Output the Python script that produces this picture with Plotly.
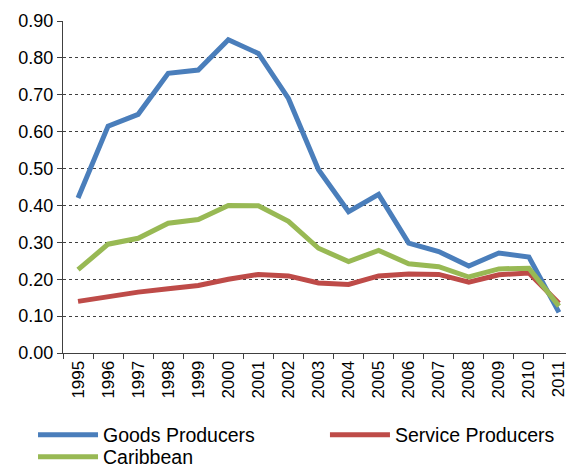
import plotly.graph_objects as go

years = [str(y) for y in range(1995, 2012)]
goods = [0.42, 0.615, 0.647, 0.758, 0.767, 0.849, 0.812, 0.69, 0.497, 0.383, 0.43, 0.298, 0.275, 0.236, 0.271, 0.26, 0.11]
service = [0.14, 0.153, 0.165, 0.174, 0.183, 0.2, 0.213, 0.209, 0.19, 0.186, 0.209, 0.214, 0.213, 0.192, 0.212, 0.217, 0.135]
caribbean = [0.226, 0.295, 0.311, 0.352, 0.362, 0.4, 0.399, 0.357, 0.284, 0.248, 0.278, 0.242, 0.234, 0.206, 0.228, 0.23, 0.127]
yticks = [0.0, 0.1, 0.2, 0.3, 0.4, 0.5, 0.6, 0.7, 0.8, 0.9]

fig = go.Figure()
fig.add_trace(go.Scatter(x=years, y=goods, mode="lines", name="Goods Producers",
                         line=dict(color="#4a7ebb", width=5), legend="legend"))
fig.add_trace(go.Scatter(x=years, y=service, mode="lines", name="Service Producers",
                         line=dict(color="#be4b48", width=5), legend="legend2"))
fig.add_trace(go.Scatter(x=years, y=caribbean, mode="lines", name="Caribbean",
                         line=dict(color="#98b954", width=5), legend="legend3"))

legend_common = dict(orientation="v", xref="container", yref="container",
                     xanchor="left", yanchor="middle", itemwidth=60,
                     font=dict(size=19.5), bgcolor="rgba(0,0,0,0)", tracegroupgap=0)

fig.update_layout(
    width=566, height=460,
    margin=dict(l=55, r=0, t=13, b=115, autoexpand=False),
    paper_bgcolor="white", plot_bgcolor="white",
    font=dict(family="Liberation Sans, Arial, sans-serif", size=17, color="black"),
    showlegend=True,
    legend=dict(x=0.0442, y=0.0717, **legend_common),
    legend2=dict(x=0.560, y=0.0717, **legend_common),
    legend3=dict(x=0.0442, y=0.0239, **legend_common),
    xaxis=dict(type="category", range=[-0.5, 16.5], tickangle=-90,
               showline=True, linecolor="#404040", linewidth=1,
               ticks="outside", ticklen=5, tickcolor="#404040",
               tickson="boundaries", showgrid=False,
               tickfont=dict(size=17)),
    yaxis=dict(range=[0, 0.9], tickvals=yticks, tickformat=".2f",
               showline=True, linecolor="#404040", linewidth=1,
               ticks="outside", ticklen=5, tickcolor="#404040",
               showgrid=True, gridcolor="#404040", griddash="dot", gridwidth=1,
               zeroline=False, tickfont=dict(size=18)),
)

fig.write_html("out.html")
